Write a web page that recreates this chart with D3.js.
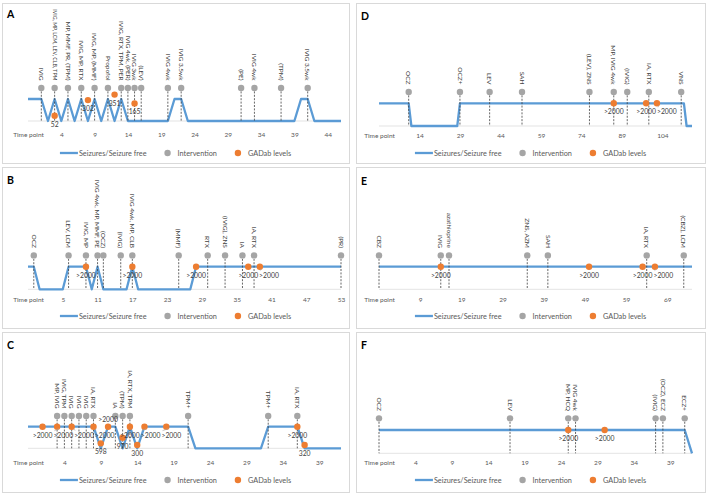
<!DOCTYPE html>
<html>
<head>
<meta charset="utf-8">
<script src="https://cdn.jsdelivr.net/npm/d3@7"></script>
<style>
  body { margin: 0; background: #fff; }
  svg text { font-family: Lato, "Open Sans", sans-serif; }
</style>
</head>
<body>
<svg id="chart" width="708" height="495"></svg>
<script>
// ---- data: [time point, state] where 1 = seizures, 0 = seizure free
const aSeizure = [[-1,1],[1,1],[2,0],[3,1],[4,0],[5,1],[6,0],[7,1],[8,0],[9,1],[10,0],[11,1],[12,0],[13,1],[14,0],[20,0],[21,1],[22,1],[23,0],[39,0],[40,1],[41,1],[42,0],[46,0]];
const aInterventions = [[1,"IVIG"],[3,"IVIG, MP, LCM, LEV, CLB, TPM"],[5,"MP, MMF, PR, (TPM)"],[7,"IVIG, MP, RTX"],[9,"IVIG, MP, (MMF)"],[11,"Propofol"],[13,"IVIG, RTX, TPM, PER"],[14,"IVIG 4wk, (PER)"],[15,"IVIG 3wk"],[16,"(LEV)"],[20,"IVIG 4wk"],[22,"IVIG 3.5wk"],[31,"(PE)"],[33,"IVIG 4wk"],[37,"(TPM)"],[41,"IVIG 3.5wk"]];
const aGadab = [[3,0.24,"52"],[8,0.95,"302"],[12,1.2,"351"],[15,0.8,"165"]];
const aTicks = [4,9,14,19,24,29,34,39,44];

const bSeizure = [[-1,1],[0,1],[1,0],[5,0],[6,1],[9,1],[10,0],[11,1],[12,0],[16,0],[17,1],[18,0],[27,0],[28,1],[53,1]];
const bInterventions = [[0,"OCZ"],[6,"LEV, LCM"],[9,"IVIG, MP"],[11,"IVIG 4wk, MP, MMF, PE"],[12,"(OCZ)"],[15,"(IVIG)"],[17,"IVIG 4wk, MP, CLB"],[25,"(MMF)"],[30,"RTX"],[33,"(IVIG), ZNS"],[36,"IA"],[38,"IA, RTX"],[53,"(PR)"]];
const bGadab = [[9,1,">2000"],[17,1,">2000"],[28,1,">2000"],[37,1,">2000"],[39,1,">2000"]];
const bTicks = [5,11,17,23,29,35,41,47,53];

const cSeizure = [[-1,1],[8,1],[9,0],[10,1],[11,1],[12,0],[13,1],[14,0],[15,1],[21,1],[22,0],[31,0],[32,1],[36,1],[37,0],[42,0]];
const cInterventions = [[3,"MP, IVIG"],[4,"IVIG, TPM"],[5,"IVIG"],[6,"IVIG"],[7,"IVIG"],[8,"IA, RTX"],[11,"IA"],[12,"(TPM)"],[13,"IA, RTX, TPM"],[21,"TPM+"],[32,"TPM+"],[36,"IA, RTX"]];
const cGadab = [[1,1,">2000"],[3,1,">2000"],[5,1,">2000"],[8,1,">2000"],[9,0.23,"598"],[10,1,">2000"],[12,0.49,"970"],[13,1,">2000"],[14,0.15,"300"],[15,1,">2000"],[18,1,">2000"],[36,1,">2000"],[37,0.15,"320"]];
const cTicks = [4,9,14,19,24,29,34,39];

const dSeizure = [[-1,1],[10,1],[11,0],[28,0],[29,1],[112,1],[113,0],[115,0]];
const dInterventions = [[10,"OCZ"],[29,"OCZ+"],[40,"LEV"],[52,"SAH"],[77,"(LEV), ZNS"],[86,"MP, IVIG 4wk"],[91,"(IVIG)"],[99,"IA, RTX"],[111,"VNS"]];
const dGadab = [[86,1,">2000"],[98,1,">2000"],[102,1,">2000"]];
const dTicks = [14,29,44,59,74,89,104];

const eSeizure = [[-1,1],[75,1]];
const eInterventions = [[-1,"CBZ"],[14,"IVIG"],[16,"azathioprine"],[35,"ZNS, AZM"],[40,"SAH"],[64,"IA, RTX"],[73,"(CBZ), LCM"]];
const eGadab = [[14,1,">2000"],[50,1,">2000"],[63,1,">2000"],[66,1,">2000"]];
const eTicks = [9,19,29,39,49,59,69];

const fSeizure = [[-1,1],[41,1],[42,0]];
const fInterventions = [[-1,"OCZ"],[17,"LEV"],[25,"MP, HCQ"],[26,"IVIG 4wk"],[37,"(IVIG)"],[38,"(OCZ), ECZ"],[41,"ECZ+"]];
const fGadab = [[25,1,">2000"],[30,1,">2000"]];
const fTicks = [4,9,14,19,24,29,34,39];

const legendLabels = ["Seizures/Seizure free", "Intervention", "GADab levels"];
const interventionLevel = 1.5;

const blue = "#5B9BD5", grey = "#A5A5A5", orange = "#ED7D31", textCol = "#595959";

const svg = d3.select("#chart");

// panel frames and plot geometry
const panels = [
  { letter: "A", seizure: aSeizure, interventions: aInterventions, gadab: aGadab, ticks: aTicks,
    box: [2, 3, 347, 160], left: 28, axisY: 121, highY: 99, tickY: 135, legendY: 153, letterY: 18 },
  { letter: "D", seizure: dSeizure, interventions: dInterventions, gadab: dGadab, ticks: dTicks,
    box: [356, 3, 349, 160], left: 379, axisY: 126, highY: 103.3, tickY: 136, legendY: 153, letterY: 20 },
  { letter: "B", seizure: bSeizure, interventions: bInterventions, gadab: bGadab, ticks: bTicks,
    box: [2, 167, 347, 161], left: 28, axisY: 289.3, highY: 266.7, tickY: 300, legendY: 316, letterY: 184 },
  { letter: "E", seizure: eSeizure, interventions: eInterventions, gadab: eGadab, ticks: eTicks,
    box: [356, 167, 349, 161], left: 379, axisY: 289.3, highY: 266.7, tickY: 299.5, legendY: 316, letterY: 185 },
  { letter: "C", seizure: cSeizure, interventions: cInterventions, gadab: cGadab, ticks: cTicks,
    box: [2, 332, 347, 160], left: 28, axisY: 448.3, highY: 426.7, tickY: 462.3, legendY: 480, letterY: 349 },
  { letter: "F", seizure: fSeizure, interventions: fInterventions, gadab: fGadab, ticks: fTicks,
    box: [356, 332, 349, 160], left: 379, axisY: 453.3, highY: 430, tickY: 462.3, legendY: 480, letterY: 349 }
];

function drawPanel(p) {
  const g = svg.append("g");

  g.append("rect")
    .attr("x", p.box[0] + 0.5).attr("y", p.box[1] + 0.5)
    .attr("width", p.box[2]).attr("height", p.box[3])
    .attr("fill", "#fff").attr("stroke", "#D9D9D9").attr("stroke-width", 1);

  g.append("text")
    .attr("x", p.box[0] + 5).attr("y", p.letterY)
    .attr("font-family", "Liberation Sans, Arial, sans-serif")
    .attr("font-weight", "bold").attr("font-size", 10.5)
    .attr("fill", "#000")
    .text(p.letter);

  const last = d3.max(p.seizure, d => d[0]);
  const x = d3.scaleLinear().domain([-1, last]).range([p.left, p.left + 313]);
  const y = d3.scaleLinear().domain([0, 1]).range([p.axisY, p.highY]);

  // horizontal axis line
  g.append("line")
    .attr("x1", x(-1)).attr("x2", x(last))
    .attr("y1", p.axisY).attr("y2", p.axisY)
    .attr("stroke", "#D9D9D9").attr("stroke-width", 0.75);

  // category labels
  const axis = d3.axisBottom(x)
    .tickValues([-1].concat(p.ticks))
    .tickSize(0)
    .tickFormat(d => d === -1 ? "Time point" : d);
  const ax = g.append("g").attr("transform", `translate(0,${p.tickY})`).call(axis);
  ax.select(".domain").remove();
  ax.selectAll("text")
    .attr("y", 0).attr("dy", "0.35em")
    .attr("font-family", "Lato, sans-serif")
    .attr("font-size", 6.5).attr("fill", textCol);

  // seizure line
  const line = d3.line().x(d => x(d[0])).y(d => y(d[1]));
  g.append("path")
    .datum(p.seizure)
    .attr("d", line)
    .attr("fill", "none").attr("stroke", blue)
    .attr("stroke-width", 2.3).attr("stroke-linejoin", "round");

  // intervention drop lines
  g.selectAll(".drop")
    .data(p.interventions)
    .join("line")
    .attr("x1", d => x(d[0])).attr("x2", d => x(d[0]))
    .attr("y1", y(interventionLevel)).attr("y2", y(0))
    .attr("stroke", "#404040").attr("stroke-width", 0.8)
    .attr("stroke-dasharray", "2,1.4");

  g.selectAll(".idot")
    .data(p.interventions)
    .join("circle")
    .attr("cx", d => x(d[0])).attr("cy", y(interventionLevel))
    .attr("r", 3.2).attr("fill", grey);

  // rotated intervention labels, shrunk if they would run past the frame
  const labelEnd = y(interventionLevel) - 7.5;
  const room = labelEnd - (p.box[1] + 6);
  g.selectAll(".ilabel")
    .data(p.interventions)
    .join("text")
    .attr("transform", d => `translate(${x(d[0])},${labelEnd}) rotate(90)`)
    .attr("text-anchor", "end").attr("dy", "0.35em")
    .attr("font-size", 6.5).attr("fill", "#404040")
    .text(d => d[1])
    .each(function () {
      const len = this.getComputedTextLength();
      if (len > room) d3.select(this).attr("font-size", 6.5 * room / len);
    });

  // GADab levels
  g.selectAll(".gdot")
    .data(p.gadab)
    .join("circle")
    .attr("cx", d => x(d[0])).attr("cy", d => y(d[1]))
    .attr("r", 3.2).attr("fill", orange);

  const placed = [];
  const overlaps = b => placed.filter(q => b[0] < q[2] && b[2] > q[0] && b[1] < q[3] && b[3] > q[1]);
  p.gadab.forEach(d => {
    const cx = x(d[0]), cy = y(d[1]);
    const t = g.append("text")
      .attr("text-anchor", "middle")
      .attr("font-size", 6.8).attr("fill", "#404040")
      .text(d[2]);
    const w = t.node().getComputedTextLength(), h = 6;
    const boxAt = (lx, ly) => [lx - w / 2, ly - h, lx + w / 2, ly];
    let lx = cx, ly = cy + 11, leader = false;
    let hit = overlaps(boxAt(lx, ly));
    if (hit.length) {
      const nx = d3.max(hit, q => q[2]) + 1 + w / 2;
      if (nx - cx <= 14 && !overlaps(boxAt(nx, ly)).length) {
        lx = nx; leader = true;
      } else {
        ly = cy - 4.5;
      }
    }
    placed.push(boxAt(lx, ly));
    t.attr("x", lx).attr("y", ly);
    if (leader) {
      g.append("line")
        .attr("x1", cx + 2).attr("y1", cy + 2)
        .attr("x2", lx - w / 2 + 1).attr("y2", ly - h - 1)
        .attr("stroke", "#A6A6A6").attr("stroke-width", 0.6);
    }
  });

  // legend
  const lg = g.append("g");
  const fs = 7.3;
  let cur = 0;
  lg.append("line").attr("x1", cur).attr("x2", cur + 18).attr("y1", 0).attr("y2", 0)
    .attr("stroke", blue).attr("stroke-width", 2.3);
  cur += 19;
  const t1 = lg.append("text").attr("x", cur).attr("dy", "0.35em")
    .attr("font-size", fs).attr("fill", textCol).text(legendLabels[0]);
  cur += t1.node().getComputedTextLength() + 21;
  lg.append("circle").attr("cx", cur).attr("cy", 0).attr("r", 3.2).attr("fill", grey);
  cur += 10;
  const t2 = lg.append("text").attr("x", cur).attr("dy", "0.35em")
    .attr("font-size", fs).attr("fill", textCol).text(legendLabels[1]);
  cur += t2.node().getComputedTextLength() + 21;
  lg.append("circle").attr("cx", cur).attr("cy", 0).attr("r", 3.2).attr("fill", orange);
  cur += 10;
  const t3 = lg.append("text").attr("x", cur).attr("dy", "0.35em")
    .attr("font-size", fs).attr("fill", textCol).text(legendLabels[2]);
  cur += t3.node().getComputedTextLength();
  const mid = p.box[0] + p.box[2] / 2;
  lg.attr("transform", `translate(${mid - cur / 2},${p.legendY})`);
}

panels.forEach(drawPanel);
</script>
</body>
</html>
